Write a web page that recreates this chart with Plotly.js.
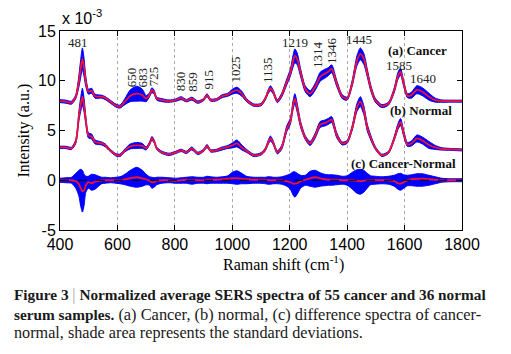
<!DOCTYPE html>
<html>
<head>
<meta charset="utf-8">
<script src="https://cdn.plot.ly/plotly-3.0.1.min.js"></script>
<style>
html,body{margin:0;padding:0;background:#fff;}
#chart{width:511px;height:354px;}
</style>
</head>
<body>
<div id="chart"></div>
<script>
// Raman shift (cm^-1)
const ramanShift = [400,420,440,455,466,472,478,484,490,499,510,522,545,558,575,595,609,626,645,667,687,700,712,720,728,737,755,780,803,822,840,859,880,900,912,925,945,965,985,1000,1016,1033,1050,1075,1100,1115,1125,1133,1142,1157,1172,1190,1202,1212,1218,1226,1238,1254,1271,1289,1306,1322,1334,1346,1364,1383,1400,1418,1434,1446,1458,1470,1482,1498,1521,1544,1564,1577,1586,1597,1610,1624,1643,1662,1685,1707,1730,1760,1800];

// intensities in units of 1e-3
const cancerMean = [7.95,7.9,7.8,8.4,10.0,11.2,12.2,11.3,9.9,8.9,9.0,8.45,8.4,8.25,7.9,7.5,7.4,7.9,8.5,8.7,8.55,8.2,8.6,9.05,8.85,8.2,8.05,7.95,8.05,8.25,8.0,8.2,7.85,8.1,8.55,8.05,8.1,8.45,8.6,8.9,9.05,8.7,8.05,7.55,7.6,8.2,8.9,9.25,8.9,7.95,8.55,9.9,10.8,12.0,12.5,12.2,10.8,9.2,8.7,9.4,10.4,10.7,10.9,11.2,9.7,8.4,8.2,9.8,12.0,12.7,12.2,10.8,9.3,8.05,7.45,7.7,9.05,10.5,10.9,9.7,8.5,8.55,9.1,8.9,8.4,8.05,7.95,7.95,7.95];
const cancerStd = [0.15,0.15,0.15,0.2,0.6,0.9,1.1,0.9,0.5,0.25,0.25,0.2,0.15,0.15,0.15,0.15,0.15,0.3,0.6,0.75,0.6,0.3,0.2,0.25,0.2,0.15,0.15,0.12,0.12,0.15,0.12,0.15,0.12,0.12,0.15,0.12,0.12,0.15,0.15,0.25,0.3,0.25,0.15,0.12,0.12,0.15,0.2,0.25,0.2,0.15,0.2,0.3,0.35,0.6,0.7,0.6,0.4,0.3,0.3,0.35,0.45,0.45,0.4,0.4,0.3,0.2,0.15,0.3,0.5,0.6,0.55,0.4,0.3,0.2,0.15,0.15,0.25,0.35,0.35,0.3,0.2,0.3,0.4,0.4,0.35,0.2,0.12,0.1,0.1];

const normalMean = [3.3,3.3,3.2,3.9,6.5,7.6,8.4,7.5,6.0,4.5,4.4,3.85,3.7,3.5,3.0,2.55,2.5,3.0,3.4,3.5,3.45,3.2,3.7,4.2,3.9,3.2,2.8,2.6,2.8,3.0,2.8,3.2,2.7,3.0,3.45,2.95,3.0,3.2,3.35,3.5,3.7,3.3,2.95,2.5,2.65,3.1,3.8,4.2,3.8,2.8,3.3,5.2,5.9,7.6,8.2,7.3,5.6,4.3,3.7,4.5,5.6,5.75,5.9,6.1,4.5,3.7,3.85,5.3,7.3,7.9,7.05,5.3,4.3,3.25,2.5,2.8,4.2,5.4,5.85,4.7,3.6,3.7,4.2,4.0,3.55,3.3,3.15,3.1,3.05];
const normalStd = [0.12,0.12,0.12,0.2,0.5,0.7,0.85,0.7,0.4,0.25,0.25,0.2,0.15,0.15,0.12,0.12,0.12,0.15,0.25,0.3,0.25,0.15,0.15,0.2,0.15,0.12,0.12,0.12,0.12,0.12,0.12,0.15,0.12,0.12,0.15,0.12,0.12,0.15,0.15,0.25,0.35,0.25,0.15,0.12,0.12,0.15,0.2,0.25,0.2,0.15,0.2,0.3,0.3,0.45,0.5,0.45,0.3,0.2,0.2,0.25,0.3,0.3,0.3,0.3,0.25,0.15,0.15,0.25,0.4,0.5,0.45,0.35,0.25,0.15,0.12,0.12,0.2,0.3,0.35,0.3,0.2,0.25,0.35,0.35,0.35,0.2,0.12,0.1,0.1];

const diffMean = [0,0,0,-0.1,-0.4,-0.8,-1.1,-1.0,-0.5,-0.2,-0.3,-0.15,0,0,0,0,0,0.1,0.2,0.3,0.2,0.1,-0.05,-0.2,-0.2,-0.05,0,0,-0.05,0,0.05,0,0,0,0.05,0.05,0.05,0.1,0.15,0.2,0.2,0.15,0.1,0.05,0.05,0.05,0,0,0,0,0,-0.1,-0.2,-0.35,-0.35,-0.3,-0.1,0.05,0.2,0.3,0.2,0.1,0.05,0.05,0.05,0,0,0,-0.05,-0.1,-0.05,0,0,0,0,0,-0.1,-0.3,-0.35,-0.2,0,0.1,0.15,0.15,0.1,0.05,0,0,0];
const diffUpper = [0.2,0.25,0.3,0.7,1.0,1.1,1.0,0.6,0.4,0.4,0.6,0.55,0.3,0.3,0.25,0.3,0.35,0.6,1.0,1.3,1.0,0.6,0.35,0.3,0.25,0.3,0.3,0.25,0.2,0.25,0.3,0.35,0.3,0.3,0.4,0.35,0.3,0.35,0.45,0.8,0.95,0.7,0.4,0.3,0.3,0.3,0.35,0.35,0.3,0.3,0.35,0.5,0.65,0.85,0.85,0.7,0.5,0.5,0.9,1.0,0.75,0.6,0.55,0.55,0.5,0.4,0.45,0.8,1.05,1.1,1.0,0.7,0.45,0.4,0.35,0.4,0.5,0.65,0.7,0.55,0.5,0.55,0.65,0.65,0.5,0.35,0.2,0.15,0.15];
const diffLower = [-0.2,-0.25,-0.3,-0.8,-1.6,-2.6,-3.2,-2.5,-1.2,-0.8,-1.0,-0.9,-0.35,-0.3,-0.25,-0.3,-0.35,-0.45,-0.6,-0.7,-0.6,-0.45,-0.5,-0.8,-0.7,-0.45,-0.3,-0.25,-0.3,-0.3,-0.3,-0.4,-0.3,-0.3,-0.35,-0.3,-0.3,-0.3,-0.3,-0.35,-0.4,-0.35,-0.35,-0.3,-0.3,-0.35,-0.4,-0.4,-0.35,-0.35,-0.4,-0.6,-0.9,-1.5,-1.7,-1.4,-0.8,-0.5,-0.6,-0.7,-0.6,-0.55,-0.5,-0.5,-0.45,-0.4,-0.5,-0.9,-1.3,-1.4,-1.2,-0.8,-0.45,-0.4,-0.35,-0.4,-0.6,-0.9,-1.0,-0.8,-0.55,-0.55,-0.6,-0.6,-0.5,-0.35,-0.2,-0.15,-0.15];

// tick labels
const xTicks = [400,600,800,1000,1200,1400,1600,1800];
const yTicks = [-5,0,5,10,15];
const yTickText = ['-5','0','5','10','15'];

// peak labels
const peakLabels = ['481','650','683','725','830','859','915','1025','1135','1219','1314','1346','1445','1585','1640'];
const seriesLabels = ['(a) Cancer','(b) Normal','(c) Cancer-Normal'];

// label placement (style/position config)
const peakPos = [
  {x:463,y:13.8,a:0},{x:647,y:10.35,a:-90},{x:686,y:10.35,a:-90},{x:724,y:10.45,a:-90},
  {x:818,y:9.95,a:-90},{x:863,y:9.9,a:-90},{x:916,y:10.15,a:-90},{x:1010,y:11.15,a:-90},
  {x:1125,y:11.1,a:-90},{x:1220,y:13.85,a:0},{x:1299,y:12.6,a:-90},{x:1348,y:13.0,a:-90},
  {x:1443,y:14.15,a:0},{x:1581,y:11.55,a:0},{x:1663,y:10.25,a:0}
];
const seriesPos = [{x:1646,y:13.05},{x:1656,y:7.0},{x:1597,y:1.68}];

const BLUE = 'rgb(0,0,255)';
const RED = '#f41230';
const SERIF = 'Liberation Serif, Times New Roman, serif';
const SANS = 'Liberation Sans, Arial, sans-serif';

function add(a,b,s){return a.map((v,i)=>v+s*b[i]);}

const traces = [];
function band(lo, hi){
  traces.push({x:ramanShift,y:lo,type:'scatter',mode:'lines',line:{color:BLUE,width:1,shape:'spline',smoothing:0.7},hoverinfo:'skip',showlegend:false});
  traces.push({x:ramanShift,y:hi,type:'scatter',mode:'lines',fill:'tonexty',fillcolor:BLUE,line:{color:BLUE,width:1,shape:'spline',smoothing:0.7},hoverinfo:'skip',showlegend:false});
}
function meanLine(y){
  traces.push({x:ramanShift,y:y,type:'scatter',mode:'lines',line:{color:RED,width:1.8,shape:'spline',smoothing:0.7},showlegend:false});
}
band(add(cancerMean,cancerStd,-1), add(cancerMean,cancerStd,1));
band(add(normalMean,normalStd,-1), add(normalMean,normalStd,1));
band(diffLower, diffUpper);
meanLine(cancerMean);
meanLine(normalMean);
meanLine(diffMean);

const annotations = [];
peakLabels.forEach((t,i)=>{
  annotations.push({x:peakPos[i].x,y:peakPos[i].y,xref:'x',yref:'y',text:t,showarrow:false,textangle:peakPos[i].a,
    font:{family:SERIF,size:13,color:'#222'},xanchor:'center',yanchor:'middle'});
});
seriesLabels.forEach((t,i)=>{
  annotations.push({x:seriesPos[i].x,y:seriesPos[i].y,xref:'x',yref:'y',text:'<b>'+t+'</b>',showarrow:false,
    font:{family:SERIF,size:13,color:'#111'},xanchor:'center',yanchor:'middle'});
});
// exponent
annotations.push({x:0,y:1,xref:'paper',yref:'paper',xanchor:'left',yanchor:'bottom',yshift:2,
  text:'x 10<sup>-3</sup>',showarrow:false,font:{family:SANS,size:16,color:'#000'}});
// axis titles
annotations.push({x:-0.0896,y:0.5,xref:'paper',yref:'paper',text:'Intensity (a.u.)',textangle:-90,showarrow:false,
  font:{family:SERIF,size:16,color:'#000'},xanchor:'center',yanchor:'middle'});
annotations.push({x:0.555,y:(230-263)/199,xref:'paper',yref:'paper',text:'Raman shift (cm<sup>-1</sup>)',showarrow:false,
  font:{family:SERIF,size:16,color:'#000'},xanchor:'center',yanchor:'middle'});
// caption
const cap = [
  '<b>Figure 3 </b><span style="color:#aaa;font-size:16px">|</span><b> Normalized average SERS spectra of 55 cancer and 36 normal</b>',
  '<b>serum samples.</b><span style="font-size:16.4px"> (a) Cancer, (b) normal, (c) difference spectra of cancer-</span>',
  '<span style="font-size:16.2px">normal, shade area represents the standard deviations.</span>'
];
const capY = [295,314,333];
cap.forEach((t,i)=>{
  annotations.push({x:(12-60)/402,y:(230-capY[i])/199,xref:'paper',yref:'paper',text:t,showarrow:false,
    xanchor:'left',yanchor:'middle',align:'left',font:{family:SERIF,size:15.3,color:'#1a1a1a'}});
});

const layout = {
  width:511,height:354,
  margin:{l:60,r:49,t:31,b:124,pad:0},
  paper_bgcolor:'#fff',plot_bgcolor:'#fff',
  showlegend:false,
  xaxis:{range:[400,1800],tickvals:xTicks,ticks:'inside',ticklen:5,tickcolor:'#000',mirror:'ticks',
    showline:true,linecolor:'#000',linewidth:1,showgrid:true,gridcolor:'#aaa',griddash:'dot',gridwidth:1,
    zeroline:false,tickfont:{family:SANS,size:16,color:'#000'}},
  yaxis:{range:[-5,15],tickvals:yTicks,ticktext:yTickText,ticks:'inside',ticklen:5,tickcolor:'#000',mirror:'ticks',
    showline:true,linecolor:'#000',linewidth:1,showgrid:false,zeroline:false,
    tickfont:{family:SANS,size:16,color:'#000'}},
  shapes:[{type:'line',xref:'paper',yref:'y',x0:0,x1:1,y0:0,y1:0,line:{color:'#000',width:1,dash:'dash'}}],
  annotations:annotations
};

Plotly.newPlot('chart',traces,layout,{displayModeBar:false,staticPlot:true});
</script>
</body>
</html>
